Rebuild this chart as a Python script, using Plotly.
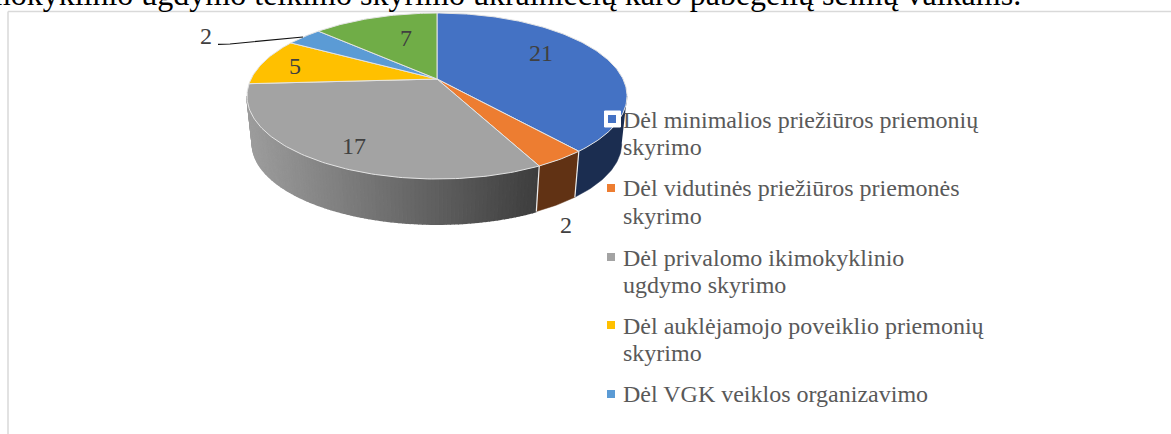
import math
import plotly.graph_objects as go

# ---- data ----
categories = [
    ["Dėl minimalios priežiūros priemonių", "skyrimo"],
    ["Dėl vidutinės priežiūros priemonės", "skyrimo"],
    ["Dėl privalomo ikimokyklinio", "ugdymo skyrimo"],
    ["Dėl auklėjamojo poveiklio priemonių", "skyrimo"],
    ["Dėl VGK veiklos organizavimo"],
]
values = [21, 2, 17, 5, 2, 7]
top_colors = ["#4472C4", "#ED7D31", "#A3A3A3", "#FFC000", "#5B9BD5", "#70AD47"]
side_colors = ["#1B2D50", "#613214", None, "#7F6000", "#2E5D8A", "#3F6B26"]
label_pos = [(541, 53), (566, 225), (354, 146), (295, 66), (206, 36), (406, 38)]
legend_line_y = [[120, 147], [188, 216], [258, 285], [326, 353], [394]]
key_y = [119, 188, 257, 325, 394]
title_text = "ikimokyklinio ugdymo teikimo skyrimo ukrainiečių karo pabėgėlių šeimų vaikams."

# ---- projection of the tilted disc ----
CX, CY, R, B, K = 437, 79, 186, 79.5, 0.205
DEPTH, SHRINK = 48, 0.972
FONT = "Liberation Serif"


def rim(deg, bottom=False):
    t = math.radians(deg)
    X, Y = math.sin(t), math.cos(t)
    d = 1 + K * Y
    s = SHRINK if bottom else 1
    return CX + s * R * X / d, CY + (DEPTH if bottom else 0) - s * B * Y / d


def arc(a, b, bottom=False, step=1.0):
    n = max(2, int(abs(b - a) / step) + 1)
    return [rim(a + (b - a) * i / (n - 1), bottom) for i in range(n)]


total = sum(values)
edges = [0]
for v in values:
    edges.append(edges[-1] + v / total * 360)

VIS_START = math.degrees(math.acos(-K))
VIS_END = 360 - VIS_START

fig = go.Figure()


def poly(pts, fill, width=0):
    fig.add_trace(go.Scatter(
        x=[p[0] for p in pts], y=[p[1] for p in pts], mode="lines", fill="toself",
        fillcolor=fill, line=dict(color=fill, width=width),
        hoverinfo="skip", showlegend=False))


def mix(c1, c2, f):
    return "rgb(%d,%d,%d)" % tuple(round(a + (b - a) * f) for a, b in zip(c1, c2))


# side wall
for i in range(len(values)):
    a, b = max(edges[i], VIS_START), min(edges[i + 1], VIS_END)
    if a >= b:
        continue
    if side_colors[i]:
        poly(arc(a, b) + arc(b, a, True), side_colors[i], width=0.5)
    else:
        n = max(2, int(b - a))
        for j in range(n):
            s0, s1 = a + (b - a) * j / n, a + (b - a) * (j + 1) / n
            xm = rim((s0 + s1) / 2)[0]
            f = min(1, max(0, (xm - 250) / (536 - 250)))
            poly(arc(s0, s1) + arc(s1, s0, True), mix((0x9C, 0x9C, 0x9C), (0x3E, 0x3E, 0x3E), f), width=1.5)

# separators on the wall
for e in edges[1:3]:
    p, q = rim(e), rim(e, True)
    fig.add_trace(go.Scatter(x=[p[0], q[0]], y=[p[1], q[1]], mode="lines",
                             line=dict(color="#EDEDED", width=1.2), hoverinfo="skip", showlegend=False))

# top face
for i, v in enumerate(values):
    pts = [(CX, CY)] + arc(edges[i], edges[i + 1]) + [(CX, CY)]
    name = " ".join(categories[i]) if i < len(categories) else ""
    fig.add_trace(go.Scatter(
        x=[p[0] for p in pts], y=[p[1] for p in pts], mode="lines", fill="toself",
        fillcolor=top_colors[i], line=dict(color="#E4E4E4", width=1),
        name=name, text=str(v), hoveron="fills", hoverinfo="text+name", showlegend=False))

# leader line of the small slice
fig.add_trace(go.Scatter(x=[218, 230, 303], y=[44.3, 44, 37], mode="lines",
                         line=dict(color="#111111", width=1.2), hoverinfo="skip", showlegend=False))

# legend keys
fig.add_trace(go.Scatter(x=[612.5], y=[key_y[0]], mode="markers",
                         marker=dict(symbol="square", size=16, color="white", line=dict(color="white", width=1)),
                         hoverinfo="skip", showlegend=False))
for i, c in enumerate(categories):
    fig.add_trace(go.Scatter(x=[612 if i == 0 else 611], y=[key_y[i]], mode="markers",
                             marker=dict(symbol="square", size=8, color=top_colors[i]),
                             hoverinfo="skip", showlegend=False))

annotations = []
for (x, y), v in zip(label_pos, values):
    annotations.append(dict(x=x, y=y, text=str(v), showarrow=False, xref="x", yref="y",
                            font=dict(family=FONT, size=24, color="#404040")))
for lines, ys in zip(categories, legend_line_y):
    for line, y in zip(lines, ys):
        annotations.append(dict(x=621, y=y, text=line, showarrow=False, xref="x", yref="y",
                                xanchor="left", yanchor="middle", align="left",
                                font=dict(family=FONT, size=24, color="#595959")))
annotations.append(dict(x=1023, y=14.5, text=title_text, showarrow=False, xref="x", yref="y",
                        xanchor="right", yanchor="bottom",
                        font=dict(family=FONT, size=32, color="#000000")))

frame = dict(type="line", xref="x", yref="y", line=dict(color="#D9D9D9", width=1.5), layer="below")
fig.update_layout(
    width=1171, height=434, margin=dict(l=0, r=0, t=0, b=0),
    paper_bgcolor="white", plot_bgcolor="white", showlegend=False,
    xaxis=dict(range=[0, 1171], visible=False, fixedrange=True),
    yaxis=dict(range=[434, 0], visible=False, fixedrange=True),
    annotations=annotations,
    shapes=[dict(frame, x0=8, x1=1171, y0=11.5, y1=11.5), dict(frame, x0=8, x1=8, y0=11.5, y1=434)],
)
fig.write_html("out.html", config=dict(displayModeBar=False),
               post_script="document.body.style.margin='0';document.body.style.overflow='hidden';")
